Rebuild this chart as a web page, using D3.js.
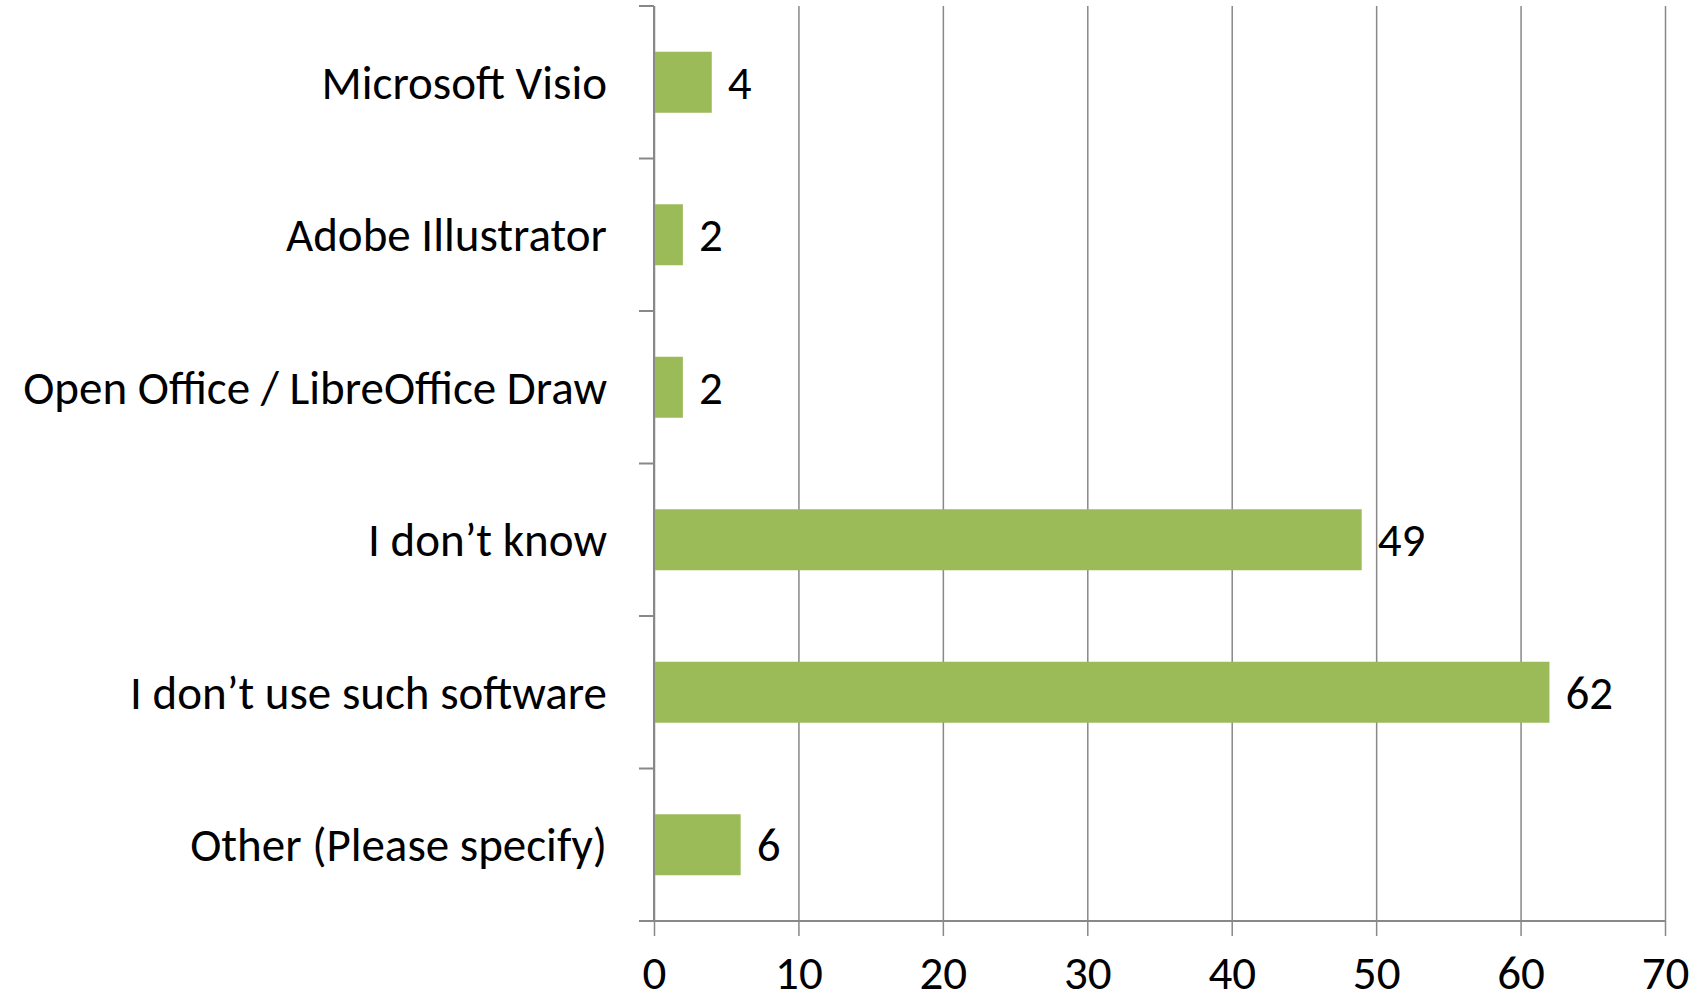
<!DOCTYPE html>
<html>
<head>
<meta charset="utf-8">
<script src="https://cdn.jsdelivr.net/npm/d3@7"></script>
<style>
  html, body { margin: 0; padding: 0; background: #fff; }
  svg { display: block; }
</style>
</head>
<body>
<svg id="chart"></svg>
<script>
const categories = ['Microsoft Visio', 'Adobe Illustrator', 'Open Office / LibreOffice Draw',
                    'I don\u2019t know', 'I don\u2019t use such software', 'Other (Please specify)'];
const counts = [4, 2, 2, 49, 62, 6];
const xTicks = [0, 10, 20, 30, 40, 50, 60, 70];

const W = 1707, H = 1002;
const margin = { top: 6, right: 42, bottom: 81, left: 654 };
const width = W - margin.left - margin.right;
const height = H - margin.top - margin.bottom;
const font = 'Carlito, Calibri, Lato, sans-serif';
const fontSize = '47px';
const gridColor = '#888888';

const svg = d3.select('#chart').attr('width', W).attr('height', H)
  .append('g').attr('transform', `translate(${margin.left},${margin.top})`);

const x = d3.scaleLinear().domain([0, 70]).range([0, width]);
const y = d3.scaleBand().domain(categories).range([0, height]).paddingInner(0.6).paddingOuter(0.3);

// vertical gridlines + bottom ticks
const xAxis = svg.append('g').attr('transform', `translate(0,${height})`)
  .call(d3.axisBottom(x).tickValues(xTicks).tickSize(15).tickPadding(20).tickSizeOuter(0));
xAxis.select('.domain').remove();
xAxis.selectAll('line').attr('stroke', gridColor).attr('stroke-width', 1.5).attr('y1', -height);
xAxis.selectAll('text').attr('fill', '#000').style('font-family', font).style('font-size', fontSize);

// bottom axis line (extends left to the y tick length)
svg.append('line').attr('x1', -15).attr('x2', x(70)).attr('y1', height).attr('y2', height)
  .attr('stroke', gridColor).attr('stroke-width', 2);

// y axis line and category boundary ticks
svg.append('line').attr('x1', 0).attr('x2', 0).attr('y1', 0).attr('y2', height)
  .attr('stroke', gridColor).attr('stroke-width', 2);
const edgeOff = (y.step() - y.bandwidth()) / 2;
svg.selectAll('.ytick').data(categories).join('line').attr('class', 'ytick')
  .attr('x1', -15).attr('x2', 0)
  .attr('y1', d => y(d) - edgeOff).attr('y2', d => y(d) - edgeOff)
  .attr('stroke', gridColor).attr('stroke-width', 2);

// category labels
svg.selectAll('.cat').data(categories).join('text').attr('class', 'cat')
  .attr('x', -47).attr('y', d => y(d) + y.bandwidth() / 2).attr('dy', '0.35em')
  .attr('text-anchor', 'end').style('font-family', font).style('font-size', fontSize)
  .text(d => d);

// bars
const rows = categories.map((c, i) => ({ cat: c, val: counts[i] }));
svg.selectAll('.bar').data(rows).join('rect').attr('class', 'bar')
  .attr('x', x(0) + 1).attr('y', d => y(d.cat))
  .attr('width', d => x(d.val) - x(0) - 1).attr('height', y.bandwidth())
  .attr('fill', '#9bbb59');

// value labels
svg.selectAll('.val').data(rows).join('text').attr('class', 'val')
  .attr('x', d => x(d.val) + 16).attr('y', d => y(d.cat) + y.bandwidth() / 2).attr('dy', '0.35em')
  .style('font-family', font).style('font-size', fontSize)
  .text(d => d.val);
</script>
</body>
</html>
